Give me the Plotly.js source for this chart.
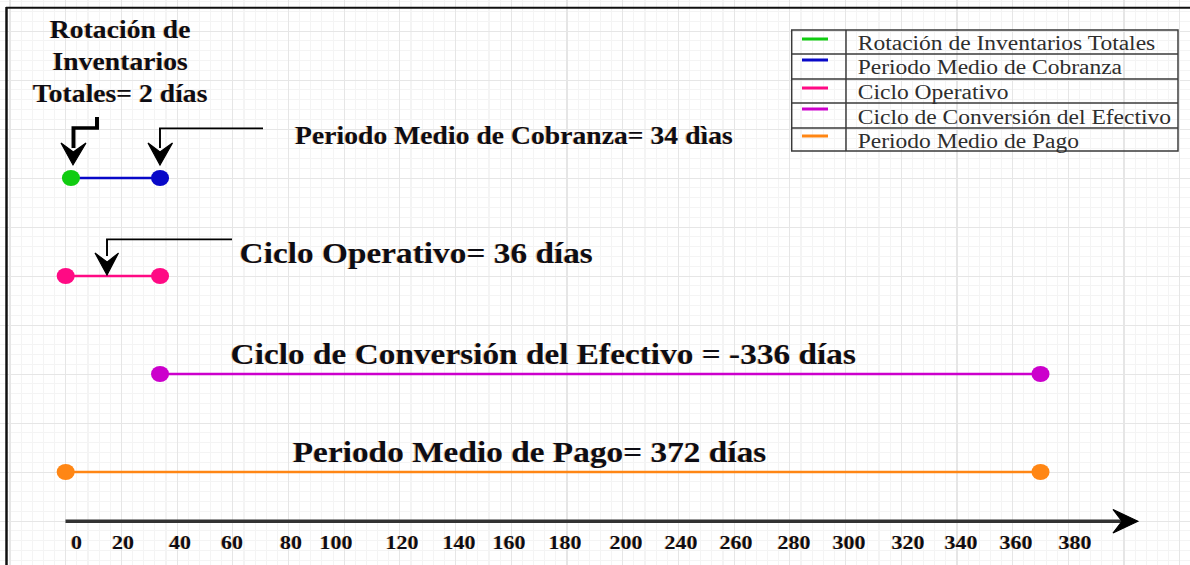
<!DOCTYPE html>
<html>
<head>
<meta charset="utf-8">
<script src="https://cdn.plot.ly/plotly-3.0.1.min.js"></script>
<style>
  html, body { margin: 0; padding: 0; background: #fff; overflow: hidden; }
  #wrap { width: 1190px; height: 565px; overflow: hidden; }
  #chart { width: 1053px; height: 565px; transform: scaleX(1.130104); transform-origin: 0 0; }
</style>
</head>
<body>
<div id="wrap"><div id="chart"></div></div>
<script>
// ---------------- data ----------------
const seriesNames = [
  'Rotación de Inventarios Totales',
  'Periodo Medio de Cobranza',
  'Ciclo Operativo',
  'Ciclo de Conversión del Efectivo',
  'Periodo Medio de Pago'
];
const startDay = [0, 2, 0, 36, 0];
const endDay   = [2, 36, 36, 372, 372];
const durationDays = [2, 34, 36, -336, 372];
const seriesColors = ['#10cc10', '#0808c8', '#ff0a84', '#cc00cc', '#ff8614'];
const tickLabels = ['0','20','40','60','80','100','120','140','160','180','200','240','260','280','300','320','340','360','380'];

// ---------------- layout helpers ----------------
const W = 1190, H = 565;
const X0 = 65.7, KX = 2.62043;            // px of day 0, px per day (reference pixels)
const Y0 = 521, KY = 49;                  // px of row 0, px per row unit
const dayAt = px => (px - X0) / KX;
const px = x => x / W;
const py = y => 1 - y / H;
const P = (x, y) => px(x).toFixed(5) + ',' + py(y).toFixed(5);

// rows (row units) for each series
const rowOf = [7, 7, 5, 3, 1];
// markers shown at start / end of each segment
const showStart = [false, false, true, true, true];
// pixel centres of the hand-placed tick labels
const tickPx = [76.5,123,180,232,291,336,402,459,509,565,626,681,736,794,849,908,961,1016,1075];

// ---------------- traces ----------------
const order = [1, 0, 2, 3, 4]; // blue segment under the green dot
const traces = order.map(i => ({
  type: 'scatter',
  mode: 'lines+markers',
  name: seriesNames[i],
  x: [startDay[i], endDay[i]],
  y: [rowOf[i], rowOf[i]],
  opacity: 1,
  line: { color: seriesColors[i], width: 2.6 },
  marker: { color: seriesColors[i], opacity: 1, size: [showStart[i] ? 16 : 0, 16], line: { width: 0 } },
  showlegend: false,
  hoverinfo: 'skip',
  cliponaxis: false
}));
// dummy trace so xaxis2 gets drawn
traces.push({ type: 'scatter', x: [], y: [], xaxis: 'x2', yaxis: 'y', showlegend: false, hoverinfo: 'skip' });

// ---------------- annotations ----------------
const boldFont = (size) => ({
  family: 'Liberation Serif, Times New Roman, serif',
  size: size, color: '#0d0d14', weight: 'bold',
  shadow: '-1px 0.5px 0px rgba(205,125,35,0.45)'
});
const ann = [];
ann.push({ xref: 'paper', yref: 'paper', x: px(120), y: py(62), xanchor: 'center', yanchor: 'middle',
  text: 'Rotación de<br>Inventarios<br>Totales= ' + durationDays[0] + ' días', showarrow: false,
  font: boldFont(24.5), align: 'center' });
ann.push({ xref: 'paper', yref: 'paper', x: px(514), y: py(135), xanchor: 'center', yanchor: 'middle',
  text: seriesNames[1] + '= ' + durationDays[1] + ' dìas', showarrow: false, font: boldFont(24.5) });
ann.push({ xref: 'paper', yref: 'paper', x: px(416.5), y: py(253), xanchor: 'center', yanchor: 'middle',
  text: seriesNames[2] + '= ' + durationDays[2] + ' días', showarrow: false, font: boldFont(29.5) });
ann.push({ xref: 'paper', yref: 'paper', x: px(543.5), y: py(354), xanchor: 'center', yanchor: 'middle',
  text: seriesNames[3] + ' = ' + durationDays[3] + ' días', showarrow: false, font: boldFont(29.5) });
ann.push({ xref: 'paper', yref: 'paper', x: px(530), y: py(452), xanchor: 'center', yanchor: 'middle',
  text: seriesNames[4] + '= ' + durationDays[4] + ' días', showarrow: false, font: boldFont(29.5) });

// legend table
const legTop = 30, legBottom = 151, legLeft = 791.7, legRight = 1178, legCol = 846;
const rowSep = [54, 79, 103, 128];
const swatchY = [39, 60, 88, 109, 136];
const textY = [43, 67, 92, 116, 141];
const shapes = [];
shapes.push({ type: 'rect', xref: 'paper', yref: 'paper', x0: px(legLeft), x1: px(legRight), y0: py(legBottom), y1: py(legTop),
  line: { color: '#3a3a3a', width: 1.3 }, fillcolor: 'rgba(0,0,0,0)' });
rowSep.forEach(y => shapes.push({ type: 'line', xref: 'paper', yref: 'paper', x0: px(legLeft), x1: px(legRight), y0: py(y), y1: py(y),
  line: { color: '#3a3a3a', width: 1.3 } }));
shapes.push({ type: 'line', xref: 'paper', yref: 'paper', x0: px(legCol), x1: px(legCol), y0: py(legTop), y1: py(legBottom),
  line: { color: '#3a3a3a', width: 1.3 } });
seriesNames.forEach((n, i) => {
  shapes.push({ type: 'line', xref: 'paper', yref: 'paper', x0: px(802), x1: px(828), y0: py(swatchY[i]), y1: py(swatchY[i]),
    line: { color: seriesColors[i], width: 3 } });
  ann.push({ xref: 'paper', yref: 'paper', x: px(855), y: py(textY[i]), xanchor: 'left', yanchor: 'middle', text: n,
    showarrow: false, font: { family: 'Liberation Serif, Times New Roman, serif', size: 20.8, color: '#2e2e2e' } });
});

// frame
shapes.push({ type: 'line', xref: 'paper', yref: 'paper', x0: px(6.5), x1: px(6.5), y0: py(7), y1: py(565), line: { color: '#111', width: 2.2 } });
shapes.push({ type: 'line', xref: 'paper', yref: 'paper', x0: px(6), x1: px(1190), y0: py(7.8), y1: py(7.8), line: { color: '#111', width: 2 } });

// pointer arrows
const pathShape = (d, w, fill) => ({ type: 'path', xref: 'paper', yref: 'paper', path: d,
  line: { color: '#000', width: w }, fillcolor: fill || 'rgba(0,0,0,0)' });
shapes.push(pathShape('M' + P(97, 117) + ' L' + P(97, 128) + ' L' + P(73.5, 128) + ' L' + P(73.5, 148), 3.5));
shapes.push(pathShape('M' + P(61, 143) + ' L' + P(73, 165) + ' L' + P(86, 143) + ' L' + P(73.3, 152) + ' Z', 1, '#000'));
shapes.push(pathShape('M' + P(263, 128.3) + ' L' + P(160, 128.3) + ' L' + P(160, 148), 1.7));
shapes.push(pathShape('M' + P(148, 143) + ' L' + P(160, 165) + ' L' + P(172.5, 143) + ' L' + P(160, 152) + ' Z', 1, '#000'));
shapes.push(pathShape('M' + P(232, 239.3) + ' L' + P(107, 239.3) + ' L' + P(107, 256), 1.7));
shapes.push(pathShape('M' + P(95, 253) + ' L' + P(107, 275) + ' L' + P(118.5, 253) + ' L' + P(107, 262) + ' Z', 1, '#000'));
// x axis arrow
shapes.push({ type: 'line', xref: 'paper', yref: 'paper', x0: px(65.5), x1: px(1122), y0: py(521.3), y1: py(521.3), line: { color: '#333', width: 3.6 } });
shapes.push(pathShape('M' + P(1113, 509.5) + ' L' + P(1138, 521.3) + ' L' + P(1113, 533) + ' L' + P(1122, 521.3) + ' Z', 1, '#000'));

const xRange = [dayAt(0), dayAt(W)];
const layout = {
  width: 1053, height: 565,
  margin: { l: 0, r: 0, t: 0, b: 0, pad: 0 },
  paper_bgcolor: '#ffffff', plot_bgcolor: '#ffffff',
  showlegend: false,
  xaxis: {
    range: xRange, tick0: 0, dtick: 372 / 17.5, showticklabels: false, ticks: '',
    showgrid: true, gridcolor: '#e6e6e6', gridwidth: 1, zeroline: false, showline: false,
    minor: { dtick: 372 / 87.5, showgrid: true, gridcolor: '#f4f4f4', gridwidth: 1 },
    fixedrange: true
  },
  xaxis2: {
    overlaying: 'x', range: xRange, anchor: 'free', position: 1 - 521.3 / H, side: 'bottom',
    tickmode: 'array', tickvals: tickPx.map(dayAt), ticktext: tickLabels,
    ticks: 'outside', ticklen: 3, tickcolor: 'rgba(0,0,0,0)', showgrid: false, zeroline: false, showline: false,
    tickfont: { family: 'Liberation Serif, Times New Roman, serif', size: 19.5, color: '#0d0d14', weight: 'bold',
      shadow: '-1px 0.5px 0px rgba(205,125,35,0.45)' },
    fixedrange: true
  },
  yaxis: {
    range: [(Y0 - H) / KY, Y0 / KY], tick0: 0, dtick: 1, showticklabels: false, ticks: '',
    showgrid: true, gridcolor: '#e6e6e6', gridwidth: 1, zeroline: false, showline: false,
    minor: { dtick: 0.2, showgrid: true, gridcolor: '#f4f4f4', gridwidth: 1 },
    fixedrange: true
  },
  annotations: ann,
  shapes: shapes
};

Plotly.newPlot('chart', traces, layout, { staticPlot: true, displayModeBar: false });
</script>
</body>
</html>
